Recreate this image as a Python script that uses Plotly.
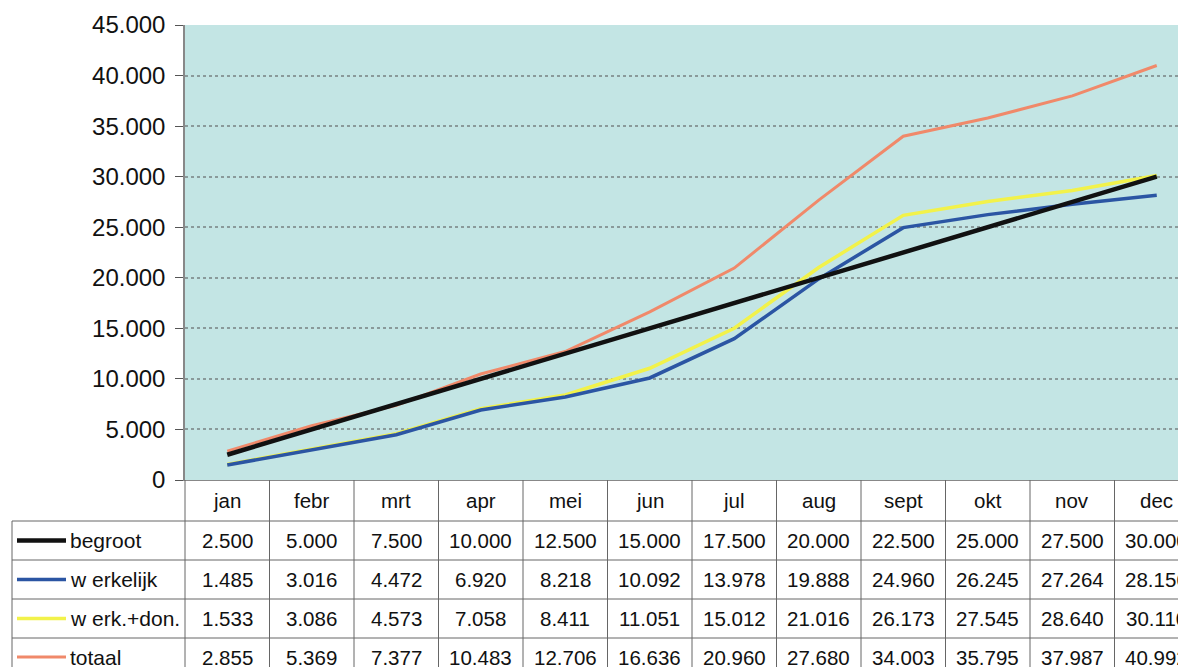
import plotly.graph_objects as go

months = ["jan", "febr", "mrt", "apr", "mei", "jun", "jul", "aug", "sept", "okt", "nov", "dec"]
begroot = [2500, 5000, 7500, 10000, 12500, 15000, 17500, 20000, 22500, 25000, 27500, 30000]
werkelijk = [1485, 3016, 4472, 6920, 8218, 10092, 13978, 19888, 24960, 26245, 27264, 28156]
werk_don = [1533, 3086, 4573, 7058, 8411, 11051, 15012, 21016, 26173, 27545, 28640, 30110]
totaal = [2855, 5369, 7377, 10483, 12706, 16636, 20960, 27680, 34003, 35795, 37987, 40992]

series_names = ["begroot", "w erkelijk", "w erk.+don.", "totaal"]
series_values = [begroot, werkelijk, werk_don, totaal]
series_colors = ["#111111", "#2b55a3", "#f2f24a", "#f0896a"]
series_widths = [4.5, 3.5, 3.5, 3]

OFF = 8  # page body margin
W, H = 1186 - OFF, 667 - OFF
P_LEFT, P_TOP, P_BOTTOM = 185, 25, 480
L = P_LEFT - OFF
T = P_TOP - OFF
B = H - (P_BOTTOM - OFF)
plot_w = W - L
plot_h = H - T - B
col_px = 84.5
xmin = -0.5
xmax = xmin + plot_w / col_px

fig = go.Figure()
for i in [3, 2, 1, 0]:
    fig.add_trace(go.Scatter(
        x=list(range(len(months))), y=series_values[i], mode="lines",
        name=series_names[i], line=dict(color=series_colors[i], width=series_widths[i]),
        showlegend=False, hoverinfo="skip"))

def ypx(px):
    return (P_BOTTOM - px) / plot_h

def xpx(px):
    return (px - P_LEFT) / plot_w

def xcat(c):
    return (c - xmin) / (xmax - xmin)

shapes = []
line_col = "#666666"
row_edges = [521, 560, 599, 638, 690]
for r in row_edges[:-1]:
    shapes.append(dict(type="line", xref="paper", yref="paper",
                       x0=xpx(12), x1=1.02, y0=ypx(r), y1=ypx(r),
                       line=dict(color=line_col, width=1)))
for i in range(len(months) + 1):
    xb = xcat(i - 0.5)
    shapes.append(dict(type="line", xref="paper", yref="paper",
                       x0=xb, x1=xb, y0=ypx(P_BOTTOM), y1=ypx(row_edges[-1]),
                       line=dict(color=line_col, width=1)))
shapes.append(dict(type="line", xref="paper", yref="paper",
                   x0=xpx(12), x1=xpx(12), y0=ypx(row_edges[0]), y1=ypx(row_edges[-1]),
                   line=dict(color=line_col, width=1)))

annotations = []
ff = "Liberation Sans, Arial, sans-serif"
tfont = dict(family=ff, size=20.5, color="#111111")
lfont = dict(family=ff, size=21, color="#111111")
for i, m in enumerate(months):
    annotations.append(dict(x=i, y=ypx(500), xref="x", yref="paper", text=m,
                            showarrow=False, font=tfont, xanchor="center", yanchor="middle"))

def fmt(v):
    return f"{v:,}".replace(",", ".")

for r, (name, vals, col, w) in enumerate(zip(series_names, series_values, series_colors, series_widths)):
    yc = (row_edges[r] + row_edges[r + 1]) / 2
    if r == 3:
        yc = 657
    shapes.append(dict(type="line", xref="paper", yref="paper",
                       x0=xpx(17), x1=xpx(66), y0=ypx(yc), y1=ypx(yc),
                       line=dict(color=col, width=w)))
    annotations.append(dict(x=xpx(68), y=ypx(yc), xref="paper", yref="paper", text=name,
                            showarrow=False, font=lfont, xanchor="left", yanchor="middle"))
    for i, v in enumerate(vals):
        annotations.append(dict(x=i, y=ypx(yc), xref="x", yref="paper", text=fmt(v),
                                showarrow=False, font=tfont, xanchor="center", yanchor="middle"))

fig.update_layout(
    width=W, height=H,
    margin=dict(l=L, r=0, t=T, b=B),
    paper_bgcolor="white", plot_bgcolor="#c3e5e4",
    separators=",.",
    shapes=shapes, annotations=annotations,
    xaxis=dict(range=[xmin, xmax], showticklabels=False, showgrid=False, zeroline=False,
               showline=True, linecolor="#888888", linewidth=1, ticks=""),
    yaxis=dict(range=[0, 45000], dtick=5000, tickformat=",d", showgrid=True,
               gridcolor="#8a9a9a", griddash="dot", gridwidth=1.5, zeroline=False,
               showline=True, linecolor="#888888", linewidth=1.5,
               ticks="outside", ticklen=8, tickcolor="#555555",
               ticklabelstandoff=5,
               tickfont=dict(family=ff, size=24, color="#111111")),
)

fig.write_html("out.html")
